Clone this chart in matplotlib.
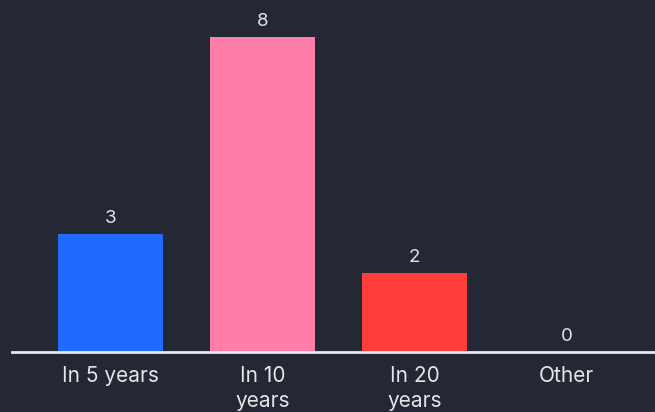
import matplotlib
matplotlib.use("Agg")
import matplotlib.pyplot as plt

categories = ["In 5 years", "In 10\nyears", "In 20\nyears", "Other"]
values = [3, 8, 2, 0]
colors = ["#1f6bff", "#ff7ea9", "#ff3e3b", "#ff3e3b"]

BG = "#232834"
TXT = "#e4e4e6"

plt.rcParams['font.family'] = ['Inter', 'DejaVu Sans']

fig = plt.figure(figsize=(6.55, 4.12), dpi=100)
fig.patch.set_facecolor(BG)
ax = fig.add_axes([12 / 655, 60 / 412, 1 - 12 / 655, 1 - 60 / 412])
ax.set_facecolor(BG)

x = range(len(categories))
bars = ax.bar(x, values, width=0.69, color=colors)

for b, v in zip(bars, values):
    ax.text(b.get_x() + b.get_width() / 2, v + 0.18, str(v),
            ha='center', va='bottom', color=TXT, fontsize=13.5)

ax.set_xlim(-0.648, 3.582)
ax.set_ylim(0, 8 * 352 / 315)
ax.set_xticks(list(x))
ax.set_xticklabels(categories, color=TXT, fontsize=15, linespacing=1.35)
ax.tick_params(axis='x', length=0, pad=10)
ax.set_yticks([])
for s in ['top', 'right', 'left']:
    ax.spines[s].set_visible(False)
ax.spines['bottom'].set_color("#e8e8ea")
ax.spines['bottom'].set_linewidth(2)

fig.savefig("out.png", dpi=100, facecolor=BG)
